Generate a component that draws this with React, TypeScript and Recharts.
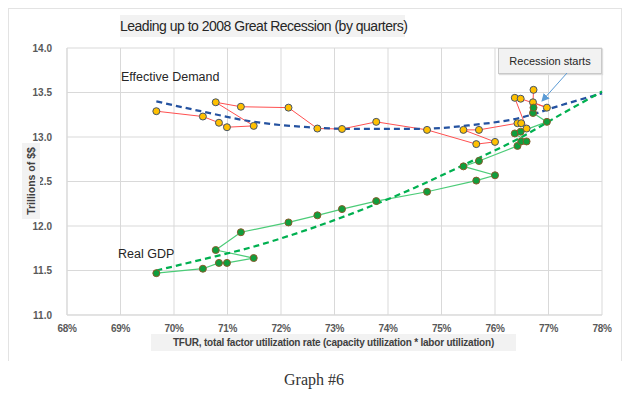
import {
  ComposedChart,
  Line,
  XAxis,
  YAxis,
  CartesianGrid,
} from "recharts"

// TFUR per quarter (x), shared by both series
const quarterTfur = [
  69.67, 70.54, 70.84, 70.99, 71.49, 70.78, 71.25, 72.14, 72.68, 73.14, 73.78, 74.73,
  75.65, 76.0, 75.41, 75.7, 76.42, 76.49, 76.59, 76.37, 76.48, 76.97, 76.71, 76.72,
]
const effectiveDemand = [
  13.29, 13.23, 13.16, 13.11, 13.125, 13.39, 13.34, 13.33, 13.095, 13.09, 13.17, 13.08,
  12.92, 12.945, 13.08, 13.08, 13.155, 13.155, 13.095, 13.44, 13.43, 13.33, 13.39, 13.53,
]
const realGdp = [
  11.47, 11.52, 11.585, 11.585, 11.64, 11.73, 11.93, 12.04, 12.12, 12.19, 12.28, 12.385,
  12.51, 12.57, 12.67, 12.73, 12.9, 12.95, 12.95, 13.04, 13.06, 13.17, 13.27, 13.33,
]

// trendlines
const trendX = [69.67, 70.5, 71.5, 72.5, 73.5, 74.5, 75.5, 76.5, 77.25, 78]
const demandTrend = [13.4, 13.29, 13.17, 13.11, 13.09, 13.09, 13.13, 13.22, 13.36, 13.49]
const gdpTrend = [11.5, 11.62, 11.77, 11.96, 12.18, 12.43, 12.71, 13.0, 13.26, 13.51]

const xTicks = [68, 69, 70, 71, 72, 73, 74, 75, 76, 77, 78]
const yTicks = [11, 11.5, 12, 12.5, 13, 13.5, 14]

const demandData = quarterTfur.map((x, i) => ({ x, y: effectiveDemand[i] }))
const gdpData = quarterTfur.map((x, i) => ({ x, y: realGdp[i] }))
const demandTrendData = trendX.map((x, i) => ({ x, y: demandTrend[i] }))
const gdpTrendData = trendX.map((x, i) => ({ x, y: gdpTrend[i] }))

const tickFont = "Tahoma, 'Liberation Sans', Arial, sans-serif"

/* yellow marker, slate outline */
function DemandDot(props: { cx?: number; cy?: number }) {
  if (props.cx == null || props.cy == null) return null
  return <circle cx={props.cx} cy={props.cy} r={3.5} fill="#ffc000" stroke="#44546a" strokeWidth={1} />
}

/* green marker, brown outline */
function GdpDot(props: { cx?: number; cy?: number }) {
  if (props.cx == null || props.cy == null) return null
  return <circle cx={props.cx} cy={props.cy} r={3.5} fill="#0f9e3c" stroke="#8a5a2b" strokeWidth={1} />
}

export default function App() {
  return (
    <div style={{ position: "absolute", left: 0, top: 0, width: 628, height: 398, background: "#fff", fontFamily: tickFont }}>
      {/* chart frame */}
      <div style={{ position: "absolute", left: 8, top: 8, width: 612, height: 352, borderLeft: "1px solid #e3e3e3", borderTop: "1px solid #e3e3e3", borderRight: "1px solid #e3e3e3" }} />

      <ComposedChart width={628} height={398} margin={{ top: 48, right: 26, bottom: 63, left: 9 }} style={{ position: "absolute", left: 0, top: 0 }}>
        <CartesianGrid stroke="#d9d9d9" />
        <XAxis
          dataKey="x"
          type="number"
          domain={[68, 78]}
          ticks={xTicks}
          tickFormatter={(v) => `${v}%`}
          axisLine={{ stroke: "#d9d9d9" }}
          tickLine={false}
          tickMargin={4}
          height={20}
          tick={{ fontSize: 10, fill: "#595959", fontWeight: 700, fontFamily: tickFont, letterSpacing: -0.4 }}
        />
        <YAxis
          type="number"
          domain={[11, 14]}
          ticks={yTicks}
          tickFormatter={(v) => v.toFixed(1)}
          axisLine={{ stroke: "#d9d9d9" }}
          tickLine={false}
          tickMargin={9}
          width={58}
          tick={{ fontSize: 10, fill: "#595959", fontWeight: 700, fontFamily: tickFont }}
        />

        <Line data={demandData} dataKey="y" type="linear" stroke="#ff5050" strokeWidth={1} dot={<DemandDot />} activeDot={false} isAnimationActive={false} />
        <Line data={gdpData} dataKey="y" type="linear" stroke="#4ccc78" strokeWidth={1.2} dot={<GdpDot />} activeDot={false} isAnimationActive={false} />

        {/* polynomial trendlines */}
        <Line data={demandTrendData} dataKey="y" type="monotone" stroke="#2452a0" strokeWidth={2.25} strokeDasharray="6 4" dot={false} activeDot={false} isAnimationActive={false} />
        <Line data={gdpTrendData} dataKey="y" type="monotone" stroke="#00b050" strokeWidth={2.25} strokeDasharray="6 4" dot={false} activeDot={false} isAnimationActive={false} />
      </ComposedChart>

      {/* title */}
      <div style={{ position: "absolute", left: 120, top: 15, width: 285, height: 22, background: "#f2f2f2", color: "#262626", fontSize: 14, lineHeight: "22px", textAlign: "center", letterSpacing: -0.5, whiteSpace: "nowrap" }}>
        Leading up to 2008 Great Recession (by quarters)
      </div>

      {/* y axis title */}
      <div style={{ position: "absolute", left: 31 - 38, top: 181 - 9, width: 76, height: 18, background: "#f2f2f2", color: "#404040", fontSize: 10.5, fontWeight: 700, lineHeight: "18px", textAlign: "center", transform: "rotate(-90deg)", whiteSpace: "nowrap" }}>
        Trillions of $$
      </div>

      {/* x axis title */}
      <div style={{ position: "absolute", left: 151, top: 334, width: 365, height: 17, background: "#f2f2f2", color: "#404040", fontSize: 10, fontWeight: 700, lineHeight: "17px", textAlign: "center", letterSpacing: -0.2, whiteSpace: "nowrap" }}>
        TFUR, total factor utilization rate (capacity utilization * labor utilization)
      </div>

      {/* series labels */}
      <div style={{ position: "absolute", left: 121, top: 70, fontSize: 12.5, color: "#262626", whiteSpace: "nowrap" }}>Effective Demand</div>
      <div style={{ position: "absolute", left: 118, top: 247, fontSize: 12.5, color: "#262626", whiteSpace: "nowrap" }}>Real GDP</div>

      {/* callout */}
      <div style={{ position: "absolute", left: 498, top: 48, width: 102, height: 24, background: "#f2f2f2", border: "1px solid #c9c9c9", boxShadow: "1px 1px 1px #ddd", color: "#262626", fontSize: 11, lineHeight: "24px", textAlign: "center", whiteSpace: "nowrap" }}>
        Recession starts
      </div>
      <svg width={628} height={398} style={{ position: "absolute", left: 0, top: 0, pointerEvents: "none" }}>
        <defs>
          <marker id="arr" markerWidth="8" markerHeight="8" refX="7" refY="4" orient="auto">
            <path d="M0,0 L8,4 L0,8 z" fill="#5b9bd5" />
          </marker>
        </defs>
        <line x1={567} y1={73} x2={542} y2={101} stroke="#5b9bd5" strokeWidth={1} markerEnd="url(#arr)" />
      </svg>

      {/* caption */}
      <div style={{ position: "absolute", left: 0, top: 371, width: 628, textAlign: "center", fontFamily: "'Liberation Serif', 'DejaVu Serif', serif", fontSize: 16, color: "#333" }}>
        Graph #6
      </div>
    </div>
  )
}
